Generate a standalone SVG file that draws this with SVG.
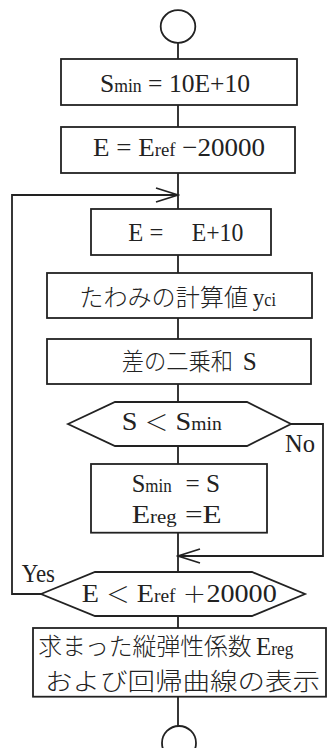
<svg xmlns="http://www.w3.org/2000/svg" width="327" height="748" viewBox="0 0 327 748">
<defs>
<style>
.s{fill:#fff;stroke:#222;stroke-width:1.8}
.l{fill:none;stroke:#222;stroke-width:1.8}
text{font-family:"Liberation Serif","Noto Sans CJK JP",serif;font-size:26px;fill:#222}
.j{font-size:24px;font-weight:300}
.sub{font-size:18px}
</style>
<marker id="ah" viewBox="-24 -9 26 18" refX="0" refY="0" markerWidth="26" markerHeight="18" markerUnits="userSpaceOnUse" orient="auto">
<path d="M-22,-7 L0,0 L-22,7" fill="none" stroke="#222" stroke-width="1.8"/>
</marker>
</defs>
<rect width="327" height="748" fill="#fff"/>
<g id="connectors">
<path class="l" d="M178,42.7V59 M178,105V127 M178,173V209 M178,255V273 M178,318V339 M178,384V402 M178,446V464 M178,532.7V572 M178,616V628 M178,697V726"/>
<path class="l" d="M41,594H12V195H178" marker-end="url(#ah)"/>
<path class="l" d="M291,424H323V556H178" marker-end="url(#ah)"/>
<text x="21.7" y="581.5" font-size="22" textLength="33.3" lengthAdjust="spacingAndGlyphs">Yes</text>
<text x="285" y="451.5" font-size="21" textLength="30" lengthAdjust="spacingAndGlyphs">No</text>
</g>
<g id="start"><ellipse class="s" cx="178" cy="26.5" rx="17.3" ry="16.3"/></g>
<g id="n1"><rect class="s" x="61" y="59" width="236" height="46"/>
<text x="100" y="91.5" textLength="150" lengthAdjust="spacingAndGlyphs">S<tspan class="sub">min</tspan> = 10E+10</text></g>
<g id="n2"><rect class="s" x="61" y="127" width="234" height="46"/>
<text x="93" y="155.5" textLength="172" lengthAdjust="spacingAndGlyphs">E = E<tspan class="sub">ref</tspan> −20000</text></g>
<g id="n3"><rect class="s" x="91" y="209" width="180" height="46"/>
<text x="128.3" y="241" textLength="35" lengthAdjust="spacingAndGlyphs">E =</text>
<text x="191.7" y="241" textLength="51.6" lengthAdjust="spacingAndGlyphs">E+10</text></g>
<g id="n4"><rect class="s" x="47" y="273" width="265" height="45"/>
<text class="j" x="79.3" y="306" textLength="168.7" lengthAdjust="spacingAndGlyphs">たわみの計算値</text>
<text x="252.7" y="306" textLength="23.3" lengthAdjust="spacingAndGlyphs">y<tspan class="sub">ci</tspan></text></g>
<g id="n5"><rect class="s" x="47" y="339" width="264" height="45"/>
<text class="j" x="121.7" y="370" textLength="111.3" lengthAdjust="spacingAndGlyphs">差の二乗和</text>
<text x="242.7" y="370" textLength="14" lengthAdjust="spacingAndGlyphs">S</text></g>
<g id="d1"><polygon class="s" points="68,424 115,402 247,402 291,424 247,446 115,446"/>
<text x="121.7" y="430" textLength="100" lengthAdjust="spacingAndGlyphs">S <tspan font-weight="300" font-size="22">＜</tspan> S<tspan class="sub">min</tspan></text></g>
<g id="n6"><rect class="s" x="91" y="464" width="176" height="68.7"/>
<text x="131.7" y="492" textLength="40" lengthAdjust="spacingAndGlyphs">S<tspan class="sub">min</tspan></text>
<text x="185.5" y="492" textLength="34.5" lengthAdjust="spacingAndGlyphs">= S</text>
<text x="131.7" y="523" textLength="45" lengthAdjust="spacingAndGlyphs">E<tspan class="sub">reg</tspan></text>
<text x="185" y="523" textLength="36.7" lengthAdjust="spacingAndGlyphs">=E</text></g>
<g id="d2"><polygon class="s" points="41,594 95,572 252,572 305,594 252,616 95,616"/>
<text x="81.7" y="601.7" textLength="195" lengthAdjust="spacingAndGlyphs">E <tspan font-weight="300" font-size="22">＜</tspan> E<tspan class="sub">ref</tspan> <tspan font-weight="300" font-size="22">＋</tspan>20000</text></g>
<g id="n7"><rect class="s" x="33" y="628" width="293" height="68.7"/>
<text class="j" x="38.3" y="655" textLength="213.4" lengthAdjust="spacingAndGlyphs">求まった縦弾性係数</text>
<text x="256" y="655" textLength="37.3" lengthAdjust="spacingAndGlyphs">E<tspan class="sub">reg</tspan></text>
<text class="j" x="45" y="689.5" textLength="275" lengthAdjust="spacingAndGlyphs">および回帰曲線の表示</text></g>
<g id="end"><circle class="s" cx="179" cy="743" r="17"/></g>
</svg>
